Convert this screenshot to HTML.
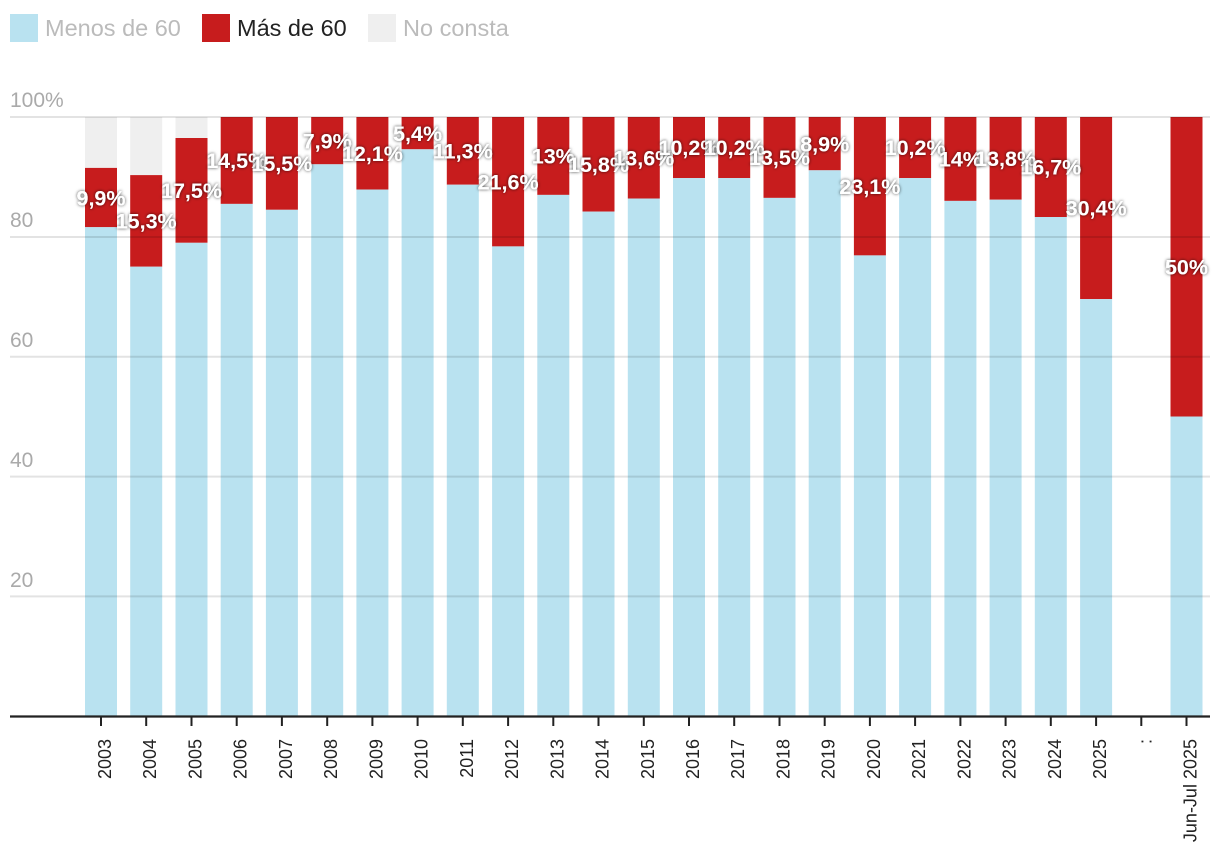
<!DOCTYPE html>
<html><head><meta charset="utf-8"><style>
html,body{margin:0;padding:0;background:#fff;}
svg{display:block;font-family:"Liberation Sans",Arial,sans-serif;}
.lab{fill:#fff;font-weight:bold;font-size:21.5px;text-anchor:middle;filter:url(#sh);}
.xl{fill:#222;font-size:18px;text-anchor:end;}
.yl{fill:#aaa;font-size:21px;}
.b{fill:#b9e2f0}.r{fill:#c71c1d}.g{fill:#efefef}
</style></head><body>
<svg width="1220" height="864" viewBox="0 0 1220 864" xmlns="http://www.w3.org/2000/svg">
<defs><filter id="sh" x="-30%" y="-50%" width="160%" height="200%"><feDropShadow dx="0" dy="0" stdDeviation="1.6" flood-color="#000" flood-opacity="0.75"/></filter></defs>
<!-- legend -->
<rect x="10" y="14" width="28" height="28" fill="#b9e2f0"/>
<text x="45" y="36" font-size="23.5" fill="#bbb">Menos de 60</text>
<rect x="202" y="14" width="28" height="28" fill="#c71c1d"/>
<text x="237" y="36" font-size="23.5" fill="#222">Más de 60</text>
<rect x="368" y="14" width="28" height="28" fill="#efefef"/>
<text x="403" y="36" font-size="23.5" fill="#bbb">No consta</text>
<!-- y labels -->
<text class="yl" x="10" y="107">100%</text>
<text class="yl" x="10" y="227">80</text>
<text class="yl" x="10" y="347">60</text>
<text class="yl" x="10" y="467">40</text>
<text class="yl" x="10" y="587">20</text>
<!-- bars -->
<g>
<rect class="g" x="85" y="117" width="32" height="50.9"/><rect class="r" x="85" y="167.9" width="32" height="59.3"/><rect class="b" x="85" y="227.2" width="32" height="488.8"/>
<rect class="g" x="130.2" y="117" width="32" height="58.1"/><rect class="r" x="130.2" y="175.1" width="32" height="91.6"/><rect class="b" x="130.2" y="266.7" width="32" height="449.3"/>
<rect class="g" x="175.5" y="117" width="32" height="21"/><rect class="r" x="175.5" y="138" width="32" height="104.8"/><rect class="b" x="175.5" y="242.8" width="32" height="473.2"/>
<rect class="r" x="220.7" y="117" width="32" height="86.9"/><rect class="b" x="220.7" y="203.9" width="32" height="512.1"/>
<rect class="r" x="265.9" y="117" width="32" height="92.8"/><rect class="b" x="265.9" y="209.8" width="32" height="506.2"/>
<rect class="r" x="311.2" y="117" width="32" height="47.3"/><rect class="b" x="311.2" y="164.3" width="32" height="551.7"/>
<rect class="r" x="356.4" y="117" width="32" height="72.5"/><rect class="b" x="356.4" y="189.5" width="32" height="526.5"/>
<rect class="r" x="401.6" y="117" width="32" height="32.3"/><rect class="b" x="401.6" y="149.3" width="32" height="566.7"/>
<rect class="r" x="446.8" y="117" width="32" height="67.7"/><rect class="b" x="446.8" y="184.7" width="32" height="531.3"/>
<rect class="r" x="492.1" y="117" width="32" height="129.4"/><rect class="b" x="492.1" y="246.4" width="32" height="469.6"/>
<rect class="r" x="537.3" y="117" width="32" height="77.9"/><rect class="b" x="537.3" y="194.9" width="32" height="521.1"/>
<rect class="r" x="582.5" y="117" width="32" height="94.6"/><rect class="b" x="582.5" y="211.6" width="32" height="504.4"/>
<rect class="r" x="627.8" y="117" width="32" height="81.5"/><rect class="b" x="627.8" y="198.5" width="32" height="517.5"/>
<rect class="r" x="673" y="117" width="32" height="61.1"/><rect class="b" x="673" y="178.1" width="32" height="537.9"/>
<rect class="r" x="718.2" y="117" width="32" height="61.1"/><rect class="b" x="718.2" y="178.1" width="32" height="537.9"/>
<rect class="r" x="763.5" y="117" width="32" height="80.9"/><rect class="b" x="763.5" y="197.9" width="32" height="518.1"/>
<rect class="r" x="808.7" y="117" width="32" height="53.3"/><rect class="b" x="808.7" y="170.3" width="32" height="545.7"/>
<rect class="r" x="853.9" y="117" width="32" height="138.4"/><rect class="b" x="853.9" y="255.4" width="32" height="460.6"/>
<rect class="r" x="899.1" y="117" width="32" height="61.1"/><rect class="b" x="899.1" y="178.1" width="32" height="537.9"/>
<rect class="r" x="944.4" y="117" width="32" height="83.9"/><rect class="b" x="944.4" y="200.9" width="32" height="515.1"/>
<rect class="r" x="989.6" y="117" width="32" height="82.7"/><rect class="b" x="989.6" y="199.7" width="32" height="516.3"/>
<rect class="r" x="1034.8" y="117" width="32" height="100"/><rect class="b" x="1034.8" y="217" width="32" height="499"/>
<rect class="r" x="1080.1" y="117" width="32" height="182.1"/><rect class="b" x="1080.1" y="299.1" width="32" height="416.9"/>
<rect class="r" x="1170.5" y="117" width="32" height="299.5"/><rect class="b" x="1170.5" y="416.5" width="32" height="299.5"/>
</g>
<!-- gridlines -->
<g stroke="rgba(0,0,0,0.11)" stroke-width="2">
<line x1="10" x2="1210" y1="117" y2="117"/>
<line x1="10" x2="1210" y1="237" y2="237"/>
<line x1="10" x2="1210" y1="356.8" y2="356.8"/>
<line x1="10" x2="1210" y1="476.6" y2="476.6"/>
<line x1="10" x2="1210" y1="596.4" y2="596.4"/>
</g>
<!-- axis -->
<line x1="10" x2="1210" y1="716.5" y2="716.5" stroke="#222" stroke-width="2.2"/>
<g stroke="#222" stroke-width="2">
<line x1="101" x2="101" y1="716" y2="726"/><line x1="146.2" x2="146.2" y1="716" y2="726"/><line x1="191.5" x2="191.5" y1="716" y2="726"/><line x1="236.7" x2="236.7" y1="716" y2="726"/><line x1="281.9" x2="281.9" y1="716" y2="726"/><line x1="327.2" x2="327.2" y1="716" y2="726"/><line x1="372.4" x2="372.4" y1="716" y2="726"/><line x1="417.6" x2="417.6" y1="716" y2="726"/><line x1="462.8" x2="462.8" y1="716" y2="726"/><line x1="508.1" x2="508.1" y1="716" y2="726"/><line x1="553.3" x2="553.3" y1="716" y2="726"/><line x1="598.5" x2="598.5" y1="716" y2="726"/><line x1="643.8" x2="643.8" y1="716" y2="726"/><line x1="689" x2="689" y1="716" y2="726"/><line x1="734.2" x2="734.2" y1="716" y2="726"/><line x1="779.5" x2="779.5" y1="716" y2="726"/><line x1="824.7" x2="824.7" y1="716" y2="726"/><line x1="869.9" x2="869.9" y1="716" y2="726"/><line x1="915.1" x2="915.1" y1="716" y2="726"/><line x1="960.4" x2="960.4" y1="716" y2="726"/><line x1="1005.6" x2="1005.6" y1="716" y2="726"/><line x1="1050.8" x2="1050.8" y1="716" y2="726"/><line x1="1096.1" x2="1096.1" y1="716" y2="726"/><line x1="1141.3" x2="1141.3" y1="716" y2="726"/><line x1="1186.5" x2="1186.5" y1="716" y2="726"/>
</g>
<!-- x labels -->
<g>
<text class="xl" transform="translate(111,739) rotate(-90)">2003</text>
<text class="xl" transform="translate(156.2,739) rotate(-90)">2004</text>
<text class="xl" transform="translate(201.5,739) rotate(-90)">2005</text>
<text class="xl" transform="translate(246.7,739) rotate(-90)">2006</text>
<text class="xl" transform="translate(291.9,739) rotate(-90)">2007</text>
<text class="xl" transform="translate(337.2,739) rotate(-90)">2008</text>
<text class="xl" transform="translate(382.4,739) rotate(-90)">2009</text>
<text class="xl" transform="translate(427.6,739) rotate(-90)">2010</text>
<text class="xl" transform="translate(472.8,739) rotate(-90)">2011</text>
<text class="xl" transform="translate(518.1,739) rotate(-90)">2012</text>
<text class="xl" transform="translate(563.3,739) rotate(-90)">2013</text>
<text class="xl" transform="translate(608.5,739) rotate(-90)">2014</text>
<text class="xl" transform="translate(653.8,739) rotate(-90)">2015</text>
<text class="xl" transform="translate(699,739) rotate(-90)">2016</text>
<text class="xl" transform="translate(744.2,739) rotate(-90)">2017</text>
<text class="xl" transform="translate(789.5,739) rotate(-90)">2018</text>
<text class="xl" transform="translate(834.7,739) rotate(-90)">2019</text>
<text class="xl" transform="translate(879.9,739) rotate(-90)">2020</text>
<text class="xl" transform="translate(925.1,739) rotate(-90)">2021</text>
<text class="xl" transform="translate(970.4,739) rotate(-90)">2022</text>
<text class="xl" transform="translate(1015.6,739) rotate(-90)">2023</text>
<text class="xl" transform="translate(1060.8,739) rotate(-90)">2024</text>
<text class="xl" transform="translate(1106.1,739) rotate(-90)">2025</text>
<text class="xl" transform="translate(1151.3,739) rotate(-90)">:</text>
<text class="xl" transform="translate(1196.5,739) rotate(-90)">Jun-Jul 2025</text>
</g>
<!-- value labels -->
<g>
<text class="lab" x="101" y="205.3">9,9%</text>
<text class="lab" x="146.2" y="228.6">15,3%</text>
<text class="lab" x="191.5" y="198.1">17,5%</text>
<text class="lab" x="236.7" y="168.1">14,5%</text>
<text class="lab" x="281.9" y="171.1">15,5%</text>
<text class="lab" x="327.2" y="148.3">7,9%</text>
<text class="lab" x="372.4" y="160.9">12,1%</text>
<text class="lab" x="417.6" y="140.8">5,4%</text>
<text class="lab" x="462.8" y="158.5">11,3%</text>
<text class="lab" x="508.1" y="189.4">21,6%</text>
<text class="lab" x="553.3" y="163.7">13%</text>
<text class="lab" x="598.5" y="172">15,8%</text>
<text class="lab" x="643.8" y="165.4">13,6%</text>
<text class="lab" x="689" y="155.2">10,2%</text>
<text class="lab" x="734.2" y="155.2">10,2%</text>
<text class="lab" x="779.5" y="165.1">13,5%</text>
<text class="lab" x="824.7" y="151.3">8,9%</text>
<text class="lab" x="869.9" y="193.9">23,1%</text>
<text class="lab" x="915.1" y="155.2">10,2%</text>
<text class="lab" x="960.4" y="166.6">14%</text>
<text class="lab" x="1005.6" y="166">13,8%</text>
<text class="lab" x="1050.8" y="174.7">16,7%</text>
<text class="lab" x="1096.1" y="215.7">30,4%</text>
<text class="lab" x="1186.5" y="274.4">50%</text>
</g>
</svg>
</body></html>
